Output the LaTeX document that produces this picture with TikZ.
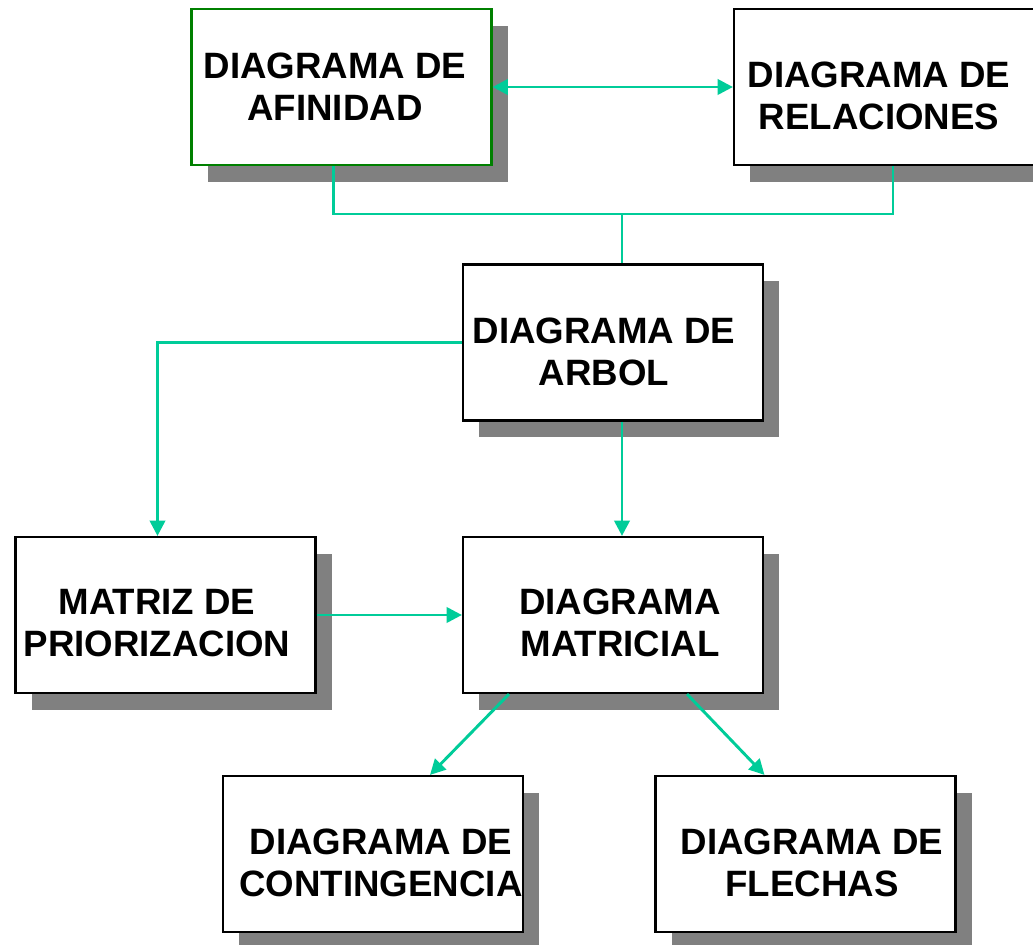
\documentclass[tikz,border=0pt]{standalone}
\usepackage{fontspec}
\setmainfont{Liberation Sans}
\usetikzlibrary{positioning,arrows.meta,shadows}

\definecolor{linkgreen}{RGB}{0,204,153}
\definecolor{boxgreen}{RGB}{0,128,0}
\definecolor{shadowgray}{RGB}{128,128,128}

\tikzset{
    box/.style={draw=black, line width=1.6pt, fill=white,
        minimum width=225pt, minimum height=117pt, inner sep=0pt,
        drop shadow={shadow xshift=12pt, shadow yshift=-12.5pt,
            fill=shadowgray, opacity=1}},
    boxtext/.style={align=center, inner sep=0pt,
        font=\fontsize{27.5}{31.5}\selectfont\bfseries},
    link/.style={draw=linkgreen, line width=2.2pt},
    tip/.style={-{Triangle[length=11.5pt,width=11.5pt]}}
}

\begin{document}
\begin{tikzpicture}[x=0.75pt, y=-0.75pt]
    \useasboundingbox (0,0) rectangle (1033,945);

    % boxes
    \node[box, draw=boxgreen] (afinidad) at (341.5,87) {};
    \node[box] (relaciones) at (884,87) {};
    \node[box] (arbol) at (613,342.5) {};
    \node[box] (matriz) at (165.5,615) {};
    \node[box] (matricial) at (613,615) {};
    \node[box] (contingencia) at (373,854) {};
    \node[box] (flechas) at (805.5,854) {};

    % texts
    \node[boxtext] (afinidad-txt) at (335,87) {DIAGRAMA DE\\AFINIDAD};
    \node[boxtext] (relaciones-txt) at (879,96) {DIAGRAMA DE\\RELACIONES};
    \node[boxtext] (arbol-txt) at (604,352) {DIAGRAMA DE\\ARBOL};
    \node[boxtext] (matriz-txt) at (157,623) {MATRIZ DE\\PRIORIZACION};
    \node[boxtext] (matricial-txt) at (620,623) {DIAGRAMA\\MATRICIAL};
    \node[boxtext] (contingencia-txt) at (381,863) {DIAGRAMA DE\\CONTINGENCIA};
    \node[boxtext] (flechas-txt) at (812,863) {DIAGRAMA DE\\FLECHAS};

    % connectors
    \coordinate (joint) at (622,214);
    \draw[link, {Triangle[length=11.5pt,width=11.5pt]}-{Triangle[length=11.5pt,width=11.5pt]}]
        (afinidad.east) -- (relaciones.west);
    \draw[link] ([shift={(-8,0)}]afinidad.south) |- (joint)
        -| ([shift={(9,0)}]relaciones.south);
    \draw[link] (joint) -- (arbol.north -| joint);
    \draw[link, tip] (arbol.west) -| ([shift={(-8,0)}]matriz.north);
    \draw[link, tip] (arbol.south -| joint) -- (matricial.north -| joint);
    \draw[link, tip] (matriz.east) -- (matricial.west);
    \draw[link, tip] ([shift={(-104,0)}]matricial.south)
        -- ([shift={(57,0)}]contingencia.north);
    \draw[link, tip] ([shift={(74,0)}]matricial.south)
        -- ([shift={(-41,0)}]flechas.north);
\end{tikzpicture}
\end{document}
